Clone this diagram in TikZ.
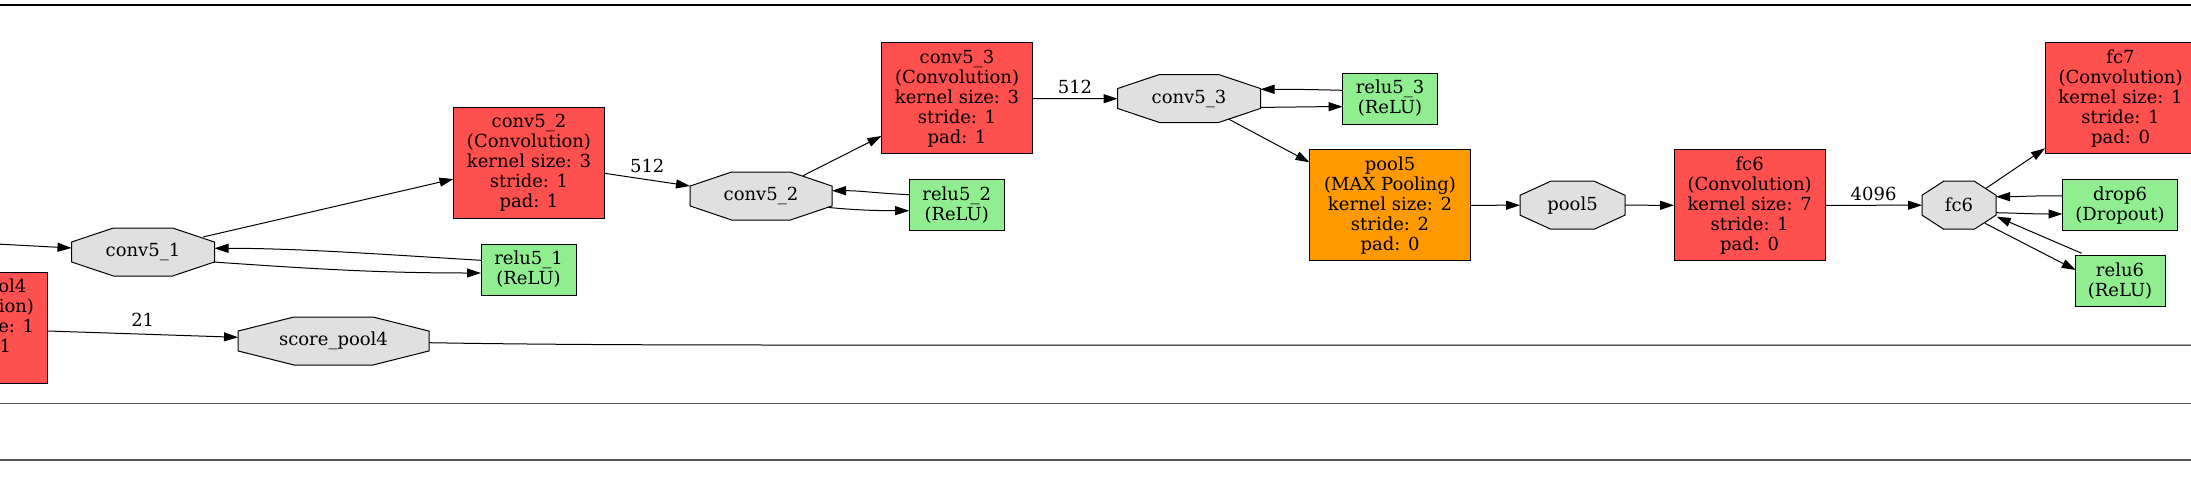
\documentclass[tikz,border=0pt]{standalone}
\usepackage{fontspec}
\setmainfont{DejaVu Serif}
\usetikzlibrary{arrows.meta,calc,backgrounds}
\definecolor{convred}{HTML}{FF5050}
\definecolor{poolorange}{HTML}{FF9900}
\definecolor{actgreen}{HTML}{90EE90}
\definecolor{blobgray}{HTML}{E0E0E0}
\definecolor{framegray}{HTML}{555555}
\begin{document}
\begin{tikzpicture}[x=0.75pt,y=-0.75pt,
  every node/.style={font=\fontsize{13.5}{15}\selectfont, align=center, inner sep=0pt, outer sep=0pt},
  layerbox/.style={rectangle, draw=black, line width=0.75pt},
  convbox/.style={layerbox, fill=convred, minimum width=113.25pt, minimum height=83.25pt},
  poolbox/.style={layerbox, fill=poolorange, minimum width=120.75pt, minimum height=83.25pt},
  actbox/.style={layerbox, fill=actgreen, minimum height=38.25pt},
  blob/.style={rectangle, minimum height=36pt},
  octo/.style={draw=black, fill=blobgray, line width=0.75pt},
  edge/.style={draw=black, line width=0.75pt, -{Triangle[length=10.5pt,width=6.75pt]}},
  plainedge/.style={draw=black, line width=0.75pt},
  frameline/.style={line width=1.1pt, draw=framegray},
  lbl/.style={}
]
\useasboundingbox (0,0) rectangle (2191,489);
\clip (0,0) rectangle (2191,489);

% frame lines
\coordinate (tl) at (0,5);
\coordinate (tr) at (2191,5);
\coordinate (ml) at (0,403.5);
\coordinate (mr) at (2191,403.5);
\coordinate (bl) at (0,460);
\coordinate (br) at (2191,460);
\draw[line width=1pt, black] (tl) -- (tr);
\draw[frameline] (ml) -- (mr);
\draw[frameline] (bl) -- (br);

% layer nodes
\node[convbox] (sp4L) at (-28,328) {score\_pool4\\(Convolution)\\kernel size: 1\\stride: 1\\pad: 0};
\node[convbox] (conv52L) at (529,162.5) {conv5\_2\\(Convolution)\\kernel size: 3\\stride: 1\\pad: 1};
\node[convbox] (conv53L) at (957,98.3) {conv5\_3\\(Convolution)\\kernel size: 3\\stride: 1\\pad: 1};
\node[poolbox] (pool5L) at (1390,205.3) {pool5\\(MAX Pooling)\\kernel size: 2\\stride: 2\\pad: 0};
\node[convbox] (fc6L) at (1749.6,205.3) {fc6\\(Convolution)\\kernel size: 7\\stride: 1\\pad: 0};
\node[convbox] (fc7L) at (2120.5,98.3) {fc7\\(Convolution)\\kernel size: 1\\stride: 1\\pad: 0};
\node[actbox, minimum width=71.25pt] (relu51) at (528.5,269.5) {relu5\_1\\(ReLU)};
\node[actbox, minimum width=71.25pt] (relu52) at (956.7,205.3) {relu5\_2\\(ReLU)};
\node[actbox, minimum width=71.25pt] (relu53) at (1390,98.5) {relu5\_3\\(ReLU)};
\node[actbox, minimum width=86.25pt] (drop6) at (2120,205.3) {drop6\\(Dropout)};
\node[actbox, minimum width=67.5pt] (relu6) at (2120,281.3) {relu6\\(ReLU)};

% blob nodes
\node[blob, minimum width=107.25pt] (conv51b) at (143,252) {conv5\_1};
\node[blob, minimum width=143.25pt] (sp4b) at (333.5,341) {score\_pool4};
\node[blob, minimum width=106.5pt] (conv52b) at (761,196) {conv5\_2};
\node[blob, minimum width=107.25pt] (conv53b) at (1189,98.5) {conv5\_3};
\node[blob, minimum width=78.75pt] (pool5b) at (1572.5,205.2) {pool5};
\node[blob, minimum width=55.5pt] (fc6b) at (1959,205.2) {fc6};

\begin{scope}[on background layer]
\foreach \n in {conv51b,sp4b,conv52b,conv53b,pool5b,fc6b} {
  \path[octo] ($(\n.north west)!0.293!(\n.north east)$) -- ($(\n.north west)!0.707!(\n.north east)$)
    -- ($(\n.north east)!0.293!(\n.south east)$) -- ($(\n.north east)!0.707!(\n.south east)$)
    -- ($(\n.south east)!0.293!(\n.south west)$) -- ($(\n.south east)!0.707!(\n.south west)$)
    -- ($(\n.south west)!0.293!(\n.north west)$) -- ($(\n.south west)!0.707!(\n.north west)$) -- cycle;
}
\end{scope}

% free ends
\coordinate (inL) at (-60,241);
\coordinate (outR) at (2250,345);

% edges
\draw[edge] (inL) -- ($(conv51b.west)+(0,-4)$);
\draw[edge] ($(conv51b)+(60,-15)$) -- ($(conv52L.west)+(0,16.5)$);
\draw[edge] ($(relu51.west)+(0,-9.2)$) .. controls +(-100,-6) and +(85,0) .. ($(conv51b.east)+(0,-3.7)$);
\draw[edge] ($(conv51b.east)+(-1,10)$) .. controls +(100,7) and +(-100,0) .. ($(relu51.west)+(0,3.5)$);
\draw[edge] ($(sp4L.east)+(0,3)$) -- node[lbl, midway, yshift=11pt] {21} ($(sp4b.west)+(0,-3.7)$);
\draw[plainedge] ($(sp4b.east)+(0,1.7)$) .. controls +(150,2.6) and +(-150,0) .. (900,345) -- (outR);
\draw[edge] ($(conv52L.east)+(0,10.8)$) -- node[lbl, midway, yshift=10.5pt] {512} ($(conv52b.west)+(0,-10)$);
\draw[edge] ($(conv52b)+(42,-20.3)$) -- ($(conv53L.west)+(0,37.7)$);
\draw[edge] ($(relu52.west)+(0,-10.6)$) .. controls +(-40,-2) and +(30,0) .. ($(conv52b.east)+(0,-5.3)$);
\draw[edge] ($(conv52b.east)+(-5,11.3)$) .. controls +(30,3) and +(-30,0) .. ($(relu52.west)+(0,5.4)$);
\draw[edge] ($(conv53L.east)+(0,0.4)$) -- node[lbl, midway, yshift=8.5pt] {512} ($(conv53b.west)+(0,0.2)$);
\draw[edge] ($(relu53.west)+(0,-8.2)$) .. controls +(-40,-1) and +(30,0) .. ($(conv53b.east)+(0,-9.2)$);
\draw[edge] ($(conv53b.east)+(0,8.8)$) .. controls +(30,0) and +(-40,0) .. ($(relu53.west)+(0,8.2)$);
\draw[edge] ($(conv53b)+(40,20.8)$) -- ($(pool5L.west)+(0,-43)$);
\draw[edge] (pool5L.east) -- (pool5b.west);
\draw[edge] (pool5b.east) -- (fc6L.west);
\draw[edge] (fc6L.east) -- node[lbl, midway, yshift=8.8pt] {4096} (fc6b.west);
\draw[edge] ($(fc6b)+(27,-16.9)$) -- ($(fc7L.west)+(0,50)$);
\draw[edge] ($(drop6.west)+(0,-9.3)$) .. controls +(-30,-0.5) and +(25,0) .. ($(fc6b.east)+(0,-8.5)$);
\draw[edge] ($(fc6b.east)+(0,7.5)$) .. controls +(25,0.5) and +(-30,0) .. ($(drop6.west)+(0,8.7)$);
\draw[edge] ($(relu6.west)+(6.7,-28)$) -- ($(fc6b.east)+(0.7,11.5)$);
\draw[edge] ($(fc6b)+(26,18.1)$) -- ($(relu6.west)+(0.7,-11.3)$);
\end{tikzpicture}
\end{document}
